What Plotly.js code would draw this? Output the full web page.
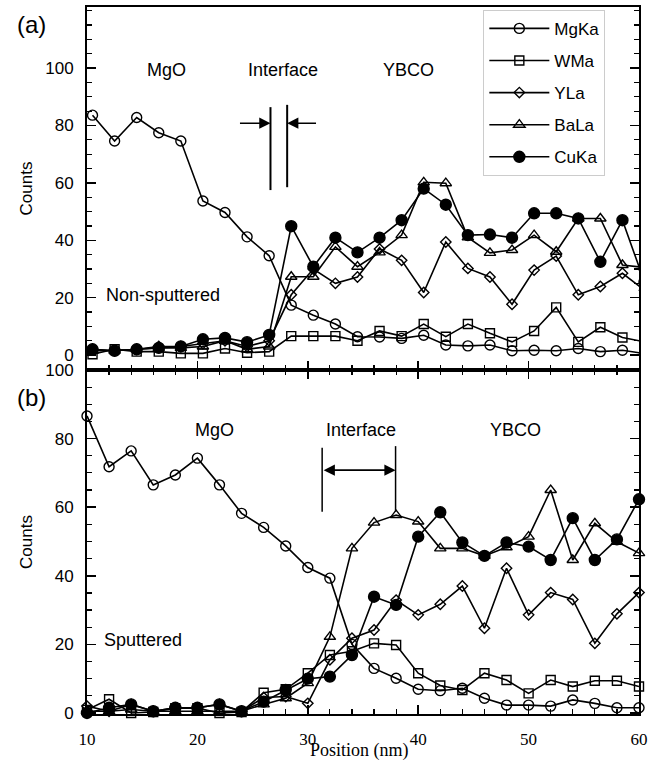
<!DOCTYPE html>
<html>
<head>
<meta charset="utf-8">
<script src="https://cdn.plot.ly/plotly-3.0.1.min.js"></script>
<style>html,body{margin:0;padding:0;background:#fff;}#chart{width:650px;height:763px;}</style>
</head>
<body>
<div id="chart"></div>
<script>
// ---- Panel (a): Non-sputtered (positions in nm) ----
const posTop = [10.5, 12.5, 14.5, 16.5, 18.5, 20.5, 22.5, 24.5, 26.5, 28.5, 30.5, 32.5, 34.5, 36.5, 38.5, 40.5, 42.5, 44.5, 46.5, 48.5, 50.5, 52.5, 54.5, 56.5, 58.5, 60.5];
const mgTop = [83.6, 74.6, 82.8, 77.5, 74.6, 53.7, 49.7, 41.2, 34.6, 17.4, 13.9, 10.8, 6.4, 6.3, 5.8, 6.9, 3.5, 3.2, 3.5, 1.5, 1.7, 1.5, 2.3, 1.2, 1.7, 0.5];
const wTop  = [0.3, 2, 1.2, 1.2, 0.6, 0.6, 2.3, 0.8, 1.2, 6.6, 6.6, 6.6, 5, 8.4, 6.6, 10.8, 6.4, 10.8, 7.6, 4.6, 8.4, 16.6, 4.6, 9.7, 6.1, 4.6];
const yTop  = [2, 1.5, 2, 3, 3, 4, 5, 3, 5, 21, 30, 25, 27.2, 37, 33, 21.8, 39.4, 30.2, 27.2, 17.7, 29.6, 34.5, 21, 23.9, 28.5, 22.6];
const baTop = [1.5, 1.5, 2, 2.5, 2.5, 3, 5, 2, 3, 27.3, 27.3, 37.7, 30.8, 35.8, 41.8, 60.2, 59.9, 41, 35.6, 36.6, 41.8, 36, 47.6, 47.6, 31.4, 30.5];
const cuTop = [2, 1.5, 2, 2.5, 3, 5.5, 6, 4.5, 7, 44.9, 30.8, 40.9, 35.8, 40.9, 47, 58, 52.4, 41.8, 42, 40.9, 49.4, 49.4, 47.6, 32.5, 47, 25.4];

// ---- Panel (b): Sputtered ----
const posBot = [10, 12, 14, 16, 18, 20, 22, 24, 26, 28, 30, 32, 34, 36, 38, 40, 42, 44, 46, 48, 50, 52, 54, 56, 58, 60];
const mgBot = [86.6, 71.8, 76.4, 66.5, 69.4, 74.3, 66.5, 58.2, 54.1, 48.7, 42.4, 39.3, 20, 13, 10.1, 6.9, 6.5, 7.2, 4.3, 2.3, 2.3, 2, 3.8, 2.8, 1.5, 1.5];
const wBot  = [0.9, 4, 0, 0.3, 1.4, 1.4, 0, 0.3, 5.9, 6.9, 11.6, 16.9, 18, 20.3, 19.8, 11.6, 8, 6.7, 11.6, 9.6, 5.7, 9.6, 7.7, 9.4, 9.4, 7.7];
const yBot  = [2, 0.5, 2.5, 0.5, 1.5, 1.5, 2.5, 0.5, 4.5, 4.8, 2.8, 15.5, 21.8, 24.2, 32.9, 28.6, 31.7, 37, 24.7, 42.2, 28.6, 35.1, 33.1, 20.3, 28.9, 35.1];
const baBot = [0.5, 0.5, 1, 0.5, 0.5, 0.5, 0.5, 0.5, 2.5, 4.3, 8.7, 22.2, 48, 55.5, 57.7, 55.8, 48, 48, 45.8, 48.3, 51.4, 65, 44.6, 55.3, 49.9, 46.6];
const cuBot = [0, 1.5, 2.5, 0.5, 1.5, 1.5, 2.5, 0.5, 3.3, 6.7, 10, 10.6, 16.9, 33.9, 31.5, 51.4, 58.5, 49.7, 45.8, 49.7, 48.5, 44.6, 56.8, 44.6, 50.6, 62.3];

const seriesNames = ['MgKa', 'WMa', 'YLa', 'BaLa', 'CuKa'];
const yTickVals = [0, 20, 40, 60, 80, 100];
const xTickVals = [10, 20, 30, 40, 50, 60];

const symbols = ['circle-open', 'square-open', 'diamond-open', 'triangle-up-open', 'circle'];
const sizes = [10, 9, 8, 10, 11];
const topData = [mgTop, wTop, yTop, baTop, cuTop];
const botData = [mgBot, wBot, yBot, baBot, cuBot];

const traces = [];
seriesNames.forEach((n, i) => {
  traces.push({
    x: posTop, y: topData[i], xaxis: 'x2', yaxis: 'y2', name: n, legendgroup: n,
    mode: 'lines+markers', cliponaxis: true,
    line: {color: 'black', width: 1.6},
    marker: {symbol: symbols[i], size: sizes[i], color: 'black', line: {color: 'black', width: 1.4}}
  });
});
seriesNames.forEach((n, i) => {
  traces.push({
    x: posBot, y: botData[i], xaxis: 'x', yaxis: 'y', name: n, legendgroup: n, showlegend: false,
    mode: 'lines+markers', cliponaxis: false,
    line: {color: 'black', width: 1.6},
    marker: {symbol: symbols[i], size: sizes[i], color: 'black', line: {color: 'black', width: 1.4}}
  });
});

const sans = 'Liberation Sans, Arial, Helvetica, sans-serif';
const serif = 'Liberation Serif, Times New Roman, serif';
const split = 0.4866;

const yAxisCommon = {
  tickvals: yTickVals, ticks: 'inside', ticklen: 9, tickwidth: 1.5, tickcolor: 'black',
  minor: {dtick: 5, ticks: 'inside', ticklen: 5, tickwidth: 1.2, tickcolor: 'black'},
  showline: true, linewidth: 2, linecolor: 'black', mirror: 'ticks',
  showgrid: false, zeroline: false,
  tickfont: {family: sans, size: 17, color: 'black'},
  ticklabelstandoff: 8,
  title: {text: 'Counts', font: {family: sans, size: 17, color: 'black'}, standoff: 8}
};

const layout = {
  width: 650, height: 763,
  margin: {l: 87, r: 11, t: 7, b: 49},
  paper_bgcolor: 'white', plot_bgcolor: 'white',
  xaxis: {
    domain: [0, 1], anchor: 'y', range: [10, 60], tickvals: xTickVals,
    ticks: 'inside', ticklen: 9, tickwidth: 1.5, tickcolor: 'black',
    minor: {dtick: 2, ticks: 'inside', ticklen: 5, tickwidth: 1.2, tickcolor: 'black'},
    showline: true, linewidth: 2, linecolor: 'black', mirror: 'ticks',
    showgrid: false, zeroline: false,
    tickfont: {family: serif, size: 17, color: 'black'},
    ticklabelstandoff: 9
  },
  yaxis: Object.assign({}, yAxisCommon, {domain: [0, split], anchor: 'x', range: [-0.3, 100]}),
  xaxis2: {
    domain: [0, 1], anchor: 'y2', matches: 'x', range: [10, 60], tickvals: xTickVals,
    ticks: 'inside', ticklen: 9, tickwidth: 1.5, tickcolor: 'black',
    minor: {dtick: 2, ticks: 'inside', ticklen: 5, tickwidth: 1.2, tickcolor: 'black'},
    showticklabels: false,
    showline: true, linewidth: 2, linecolor: 'black', mirror: true,
    showgrid: false, zeroline: false
  },
  yaxis2: Object.assign({}, yAxisCommon, {domain: [split, 1], anchor: 'x2', range: [-5.2, 121.3]}),
  legend: {
    x: 0.718, y: 0.996, xanchor: 'left', yanchor: 'top',
    bgcolor: 'white', bordercolor: '#cccccc', borderwidth: 1,
    font: {family: sans, size: 17, color: 'black'},
    itemwidth: 60, tracegroupgap: 7, traceorder: 'grouped'
  },
  shapes: [
    {type: 'line', xref: 'x2', yref: 'y2', x0: 26.62, x1: 26.62, y0: 57.5, y1: 86.4, line: {color: 'black', width: 2}},
    {type: 'line', xref: 'x2', yref: 'y2', x0: 28.13, x1: 28.13, y0: 58.5, y1: 87.2, line: {color: 'black', width: 2}},
    {type: 'line', xref: 'x', yref: 'y', x0: 31.3, x1: 31.3, y0: 58.7, y1: 77.3, line: {color: 'black', width: 1.5}},
    {type: 'line', xref: 'x', yref: 'y', x0: 37.95, x1: 37.95, y0: 58.7, y1: 77.8, line: {color: 'black', width: 1.5}}
  ],
  annotations: [
    {text: 'Position (nm)', xref: 'paper', yref: 'paper', x: 0.493, y: -0.0675, xanchor: 'center', yanchor: 'bottom', borderpad: 0, showarrow: false, font: {family: serif, size: 18, color: 'black'}},
    {text: '(a)', xref: 'paper', yref: 'paper', x: -0.1, y: 0.975, xanchor: 'center', yanchor: 'middle', showarrow: false, font: {family: sans, size: 24, color: 'black'}},
    {text: '(b)', xref: 'paper', yref: 'paper', x: -0.101, y: 0.447, xanchor: 'center', yanchor: 'middle', showarrow: false, font: {family: sans, size: 24, color: 'black'}},
    {text: 'MgO', xref: 'x2', yref: 'y2', x: 17.2, y: 99.3, showarrow: false, font: {family: sans, size: 18, color: 'black'}},
    {text: 'Interface', xref: 'x2', yref: 'y2', x: 27.75, y: 99.3, showarrow: false, font: {family: sans, size: 18, color: 'black'}},
    {text: 'YBCO', xref: 'x2', yref: 'y2', x: 39.1, y: 99.3, showarrow: false, font: {family: sans, size: 18, color: 'black'}},
    {text: 'Non-sputtered', xref: 'x2', yref: 'y2', x: 16.9, y: 20.9, showarrow: false, font: {family: sans, size: 18, color: 'black'}},
    {text: '', xref: 'x2', yref: 'y2', x: 26.62, y: 80.8, axref: 'x2', ayref: 'y2', ax: 23.72, ay: 80.8, showarrow: true, arrowhead: 2, arrowsize: 1.4, arrowwidth: 1.6, arrowcolor: 'black', standoff: 0},
    {text: '', xref: 'x2', yref: 'y2', x: 28.13, y: 80.8, axref: 'x2', ayref: 'y2', ax: 30.88, ay: 80.8, showarrow: true, arrowhead: 2, arrowsize: 1.4, arrowwidth: 1.6, arrowcolor: 'black', standoff: 0},
    {text: 'MgO', xref: 'x', yref: 'y', x: 21.55, y: 82.5, showarrow: false, font: {family: sans, size: 18, color: 'black'}},
    {text: 'Interface', xref: 'x', yref: 'y', x: 34.78, y: 82.5, showarrow: false, font: {family: sans, size: 18, color: 'black'}},
    {text: 'YBCO', xref: 'x', yref: 'y', x: 48.8, y: 82.5, showarrow: false, font: {family: sans, size: 18, color: 'black'}},
    {text: 'Sputtered', xref: 'x', yref: 'y', x: 15.1, y: 21.3, showarrow: false, font: {family: sans, size: 18, color: 'black'}},
    {text: '', xref: 'x', yref: 'y', x: 37.95, y: 70.8, axref: 'x', ayref: 'y', ax: 31.3, ay: 70.8, showarrow: true, arrowside: 'end+start', arrowhead: 2, startarrowhead: 2, arrowsize: 1.4, startarrowsize: 1.4, arrowwidth: 1.6, arrowcolor: 'black', standoff: 0, startstandoff: 0}
  ]
};

Plotly.newPlot('chart', traces, layout, {displayModeBar: false, staticPlot: true});
</script>
</body>
</html>
